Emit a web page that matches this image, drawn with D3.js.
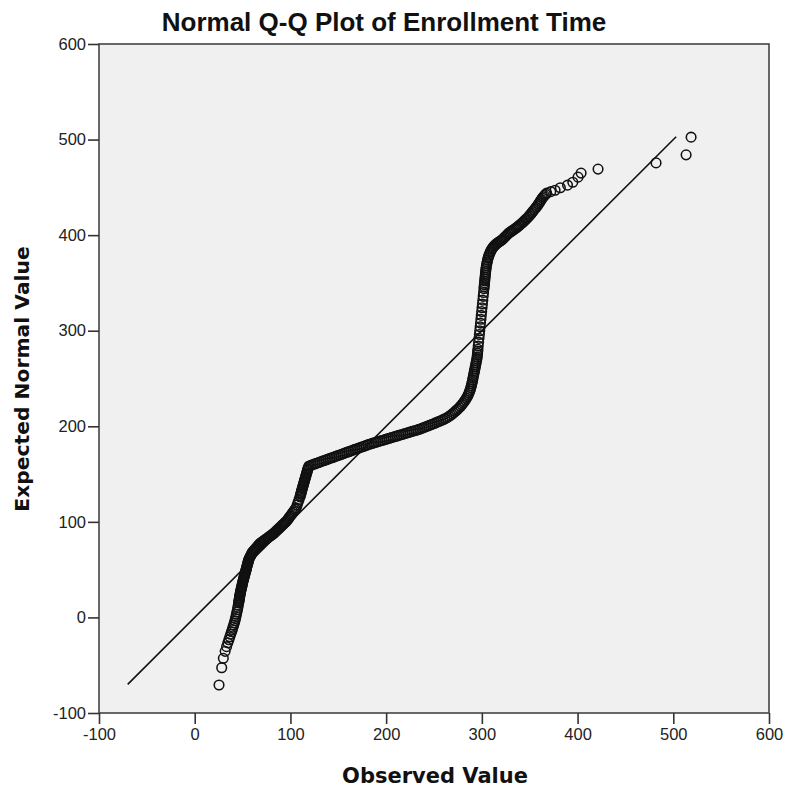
<!DOCTYPE html>
<html>
<head>
<meta charset="utf-8">
<script src="https://cdn.jsdelivr.net/npm/d3@7"></script>
<style>
  body { margin: 0; background: #fff; }
</style>
</head>
<body>
<svg id="chart"></svg>
<script>
"use strict";

const lowerTail = [
  [25.4, -70.7], [28.2, -52.6], [29.9, -42.8], [31.8, -35.5], [33.3, -30.6], [34.6, -26.6],
  [35.7, -23.3], [36.7, -20.3], [37.6, -17.6], [38.5, -15], [39.3, -12.6], [40, -10.3],
  [40.7, -8], [41.4, -5.8], [42, -3.5], [42.6, -1.2], [43.1, 1], [43.6, 3.3], [44.1, 5.6],
  [44.6, 8], [45.1, 10.4], [45.5, 12.8], [45.9, 15.2]
];
const lowerBand = [
  [46.1, 16.4], [46.3, 17.6], [46.5, 18.8], [46.7, 20], [46.9, 21.2], [47.1, 22.4], [47.3, 23.6],
  [47.5, 24.8], [47.8, 26], [48, 27.2], [48.3, 28.4], [48.5, 29.6], [48.8, 30.8], [49.1, 32],
  [49.4, 33.2], [49.6, 34.4], [49.9, 35.6], [50.2, 36.8], [50.5, 38], [50.8, 39.2], [51.1, 40.4],
  [51.4, 41.6], [51.7, 42.8], [52.1, 44], [52.4, 45.2], [52.7, 46.4], [53, 47.6], [53.4, 48.8],
  [53.7, 50], [54, 51.2], [54.3, 52.4], [54.6, 53.6], [55, 54.8], [55.3, 56], [55.6, 57.2],
  [55.9, 58.4], [56.2, 59.6], [56.6, 60.8], [57.2, 62], [57.8, 63.2], [58.4, 64.4], [59, 65.6],
  [59.6, 66.8], [60.1, 68]
];
const midRise = [
  [61, 69.1], [62, 70.2], [63, 71.3], [64, 72.4], [65, 73.6], [66, 74.7], [67, 75.9], [68, 77.1],
  [69, 77.9], [70, 78.6], [71, 79.4], [72, 80.1], [73, 80.8], [74, 81.6], [75, 82.3], [76, 83],
  [77, 83.8], [78, 84.5], [79, 85.3], [80, 86], [81, 86.7], [82, 87.5], [83, 88.4], [84, 89.3],
  [85, 90.3], [86, 91.2], [87, 92.2], [88, 93.1], [89, 94.1], [90, 95], [91, 96], [92, 97],
  [93, 97.9], [94, 98.9], [95, 99.9], [96, 100.8], [97, 102.1], [98, 103.5], [99, 104.9],
  [100, 106.2], [101, 107.6], [102, 109], [103, 110.4], [104, 111.8], [105, 113.2], [106, 114.6],
  [107, 117.5], [108, 120.4], [109, 123.3], [110, 126.2], [110.4, 127.6], [110.8, 129],
  [111.2, 130.4], [111.5, 131.8], [111.9, 133.2], [112.3, 134.6], [112.7, 136], [113.1, 137.4],
  [113.5, 138.8], [113.9, 140.2], [114.3, 141.6], [114.7, 143], [115.1, 144.4], [115.5, 145.8],
  [115.9, 147.2], [116.3, 148.6], [116.7, 150], [117.1, 151.4], [117.5, 152.8], [117.9, 154.2],
  [118.3, 155.6], [118.8, 157], [119.4, 158.4]
];
const shallowBand = [
  [121.4, 159.1], [123.4, 159.9], [125.4, 160.6], [127.4, 161.3], [129.4, 162.1], [131.4, 162.8],
  [133.4, 163.5], [135.4, 164.2], [137.4, 165], [139.4, 165.7], [141.4, 166.4], [143.4, 167.1],
  [145.4, 167.8], [147.4, 168.6], [149.4, 169.3], [151.4, 170], [153.4, 170.7], [155.4, 171.4],
  [157.4, 172.2], [159.4, 172.9], [161.4, 173.6], [163.4, 174.3], [165.4, 175], [167.4, 175.8],
  [169.4, 176.5], [171.4, 177.2], [173.4, 177.9], [175.4, 178.6], [177.4, 179.4], [179.4, 180.1],
  [181.4, 180.8], [183.4, 181.5], [185.4, 182.1], [187.4, 182.7], [189.4, 183.3], [191.4, 183.9],
  [193.4, 184.5], [195.4, 185.1], [197.4, 185.7], [199.4, 186.3], [201.4, 186.9], [203.4, 187.5],
  [205.4, 188.1], [207.4, 188.7], [209.4, 189.3], [211.4, 189.9], [213.4, 190.5], [215.4, 191.1],
  [217.4, 191.7], [219.4, 192.3], [221.4, 192.9], [223.4, 193.5], [225.4, 194.1], [227.4, 194.7],
  [229.4, 195.3], [231.4, 195.9], [233.4, 196.5], [235.4, 197.1], [237.4, 197.9], [239.4, 198.7],
  [241.4, 199.5], [243.4, 200.3], [245.4, 201.1], [247.4, 201.9], [249.4, 202.7], [251.4, 203.5],
  [253.4, 204.3], [255.4, 205.1], [257.4, 205.9], [259.4, 206.9], [261.4, 207.9], [263.4, 208.9],
  [265.4, 210.1], [267.2, 211.4], [268.9, 212.7], [270.5, 214]
];
const upperRise = [
  [272, 215.4], [273.5, 216.8], [275, 218.1], [276.4, 219.5], [277.8, 221], [279.1, 222.6],
  [280.4, 224.2], [281.6, 225.9], [282.8, 227.6], [283.9, 229.3], [284.9, 231.1], [285.8, 232.9],
  [286.6, 234.8], [287.3, 236.7], [287.9, 238.6], [288.5, 240.5], [289, 242.5], [289.5, 244.5],
  [290, 246.5], [290.4, 248.5], [290.8, 250.5], [291.2, 252.5], [291.6, 254.5], [292, 256.5],
  [292.4, 258.5], [292.8, 260.5], [293.2, 262.5], [293.6, 264.5], [294, 266.5], [294.4, 268.5],
  [294.8, 270.5], [295.1, 272.5], [295.3, 274.5], [295.5, 276.5], [295.7, 278.5], [295.9, 280.5],
  // looser stack of circles
  [296.2, 284], [296.6, 288], [297, 292], [297.4, 296], [297.8, 300], [298.2, 304], [298.6, 308],
  [299, 312], [299.4, 316], [299.8, 320], [300.2, 324], [300.6, 328], [301, 332], [301.4, 336],
  [301.8, 340], [302.2, 344]
];
const upperBand = [
  [302.4, 346], [302.6, 348], [302.8, 350], [303, 352], [303.2, 354], [303.4, 356], [303.6, 358],
  [303.8, 360], [304, 362], [304.2, 364], [304.5, 366], [304.8, 368], [305.2, 370], [305.6, 372],
  [306, 374], [306.5, 376], [307, 377.6], [307.6, 379.2], [308.2, 380.8], [308.9, 382.4],
  [309.6, 384], [310.4, 385.4], [311.3, 386.6], [312.2, 387.8], [313.2, 389], [314.2, 390],
  [315.3, 391], [316.4, 391.9], [317.6, 392.7], [318.8, 393.5], [320, 394.3], [321.1, 395.1],
  [322.4, 396.4], [323.7, 397.7], [325, 399], [326.3, 400.3], [327.6, 401.6], [328.9, 402.7],
  [330.2, 403.6], [331.5, 404.5], [332.8, 405.4], [334.1, 406.3], [335.4, 407.2], [336.7, 408.2],
  [338, 409.3], [339.3, 410.4], [340.6, 411.5], [341.9, 412.6], [343.2, 413.8], [344.5, 415],
  [345.8, 416.3], [347.1, 417.6], [348.4, 418.9], [349.6, 420.3], [350.8, 421.7], [352, 423.2],
  [353.2, 424.7], [354.4, 426.2], [355.6, 427.7], [356.8, 429.2], [358, 430.7], [359.1, 432.3],
  [360.1, 433.9], [361.1, 435.5], [362.1, 437.1], [363.1, 438.7], [364.2, 440.1], [365.3, 441.4],
  [366.5, 442.7], [367.7, 443.9]
];
const upperTail = [
  [372, 445.5], [376.5, 447], [382, 449.6], [389.5, 452.3], [395, 455.3], [400.5, 460.7],
  [403.7, 464.9], [421.4, 469.1], [482, 475.6], [513.4, 484], [518.6, 502.5]
];

const xTicks = [-100, 0, 100, 200, 300, 400, 500, 600];
const yTicks = [-100, 0, 100, 200, 300, 400, 500, 600];
const refLine = [-70, 503];

const points = [lowerTail, lowerBand, midRise, shallowBand, upperRise, upperBand, upperTail]
  .flat()
  .map(([obs, exp]) => ({ obs, exp }));

const width = 786;
const height = 787;
const margin = { top: 44, right: 17, bottom: 74, left: 99 };

const svg = d3.select("#chart")
  .attr("width", width)
  .attr("height", height);

const x = d3.scaleLinear()
  .domain([-100, 600])
  .range([margin.left, width - margin.right]);

const y = d3.scaleLinear()
  .domain([-100, 600])
  .range([height - margin.bottom, margin.top]);

// plot background + frame
svg.append("rect")
  .attr("x", x(-100))
  .attr("y", y(600))
  .attr("width", x(600) - x(-100))
  .attr("height", y(-100) - y(600))
  .attr("fill", "#f0f0f0")
  .attr("stroke", "#444")
  .attr("stroke-width", 1.6);

// axes
const tickFont = "'Liberation Sans', Arial, sans-serif";
const plain = (d) => String(d);

const yAxis = svg.append("g")
  .attr("transform", `translate(${x(-100)},0)`)
  .call(d3.axisLeft(y).tickValues(yTicks).tickFormat(plain).tickSize(11).tickPadding(2));

const xAxis = svg.append("g")
  .attr("transform", `translate(0,${y(-100)})`)
  .call(d3.axisBottom(x).tickValues(xTicks).tickFormat(plain).tickSize(11).tickPadding(4));

[xAxis, yAxis].forEach((g) => {
  g.select(".domain").remove();
  g.selectAll(".tick line").attr("stroke", "#333").attr("stroke-width", 1.6);
  g.selectAll(".tick text")
    .attr("fill", "#222")
    .style("font-family", tickFont)
    .style("font-size", "16.5px");
});

// reference line
svg.append("line")
  .attr("x1", x(refLine[0]))
  .attr("y1", y(refLine[0]))
  .attr("x2", x(refLine[1]))
  .attr("y2", y(refLine[1]))
  .attr("stroke", "#111")
  .attr("stroke-width", 1.6);

// points
svg.append("g")
  .selectAll("circle")
  .data(points)
  .join("circle")
  .attr("cx", (d) => x(d.obs))
  .attr("cy", (d) => y(d.exp))
  .attr("r", 4.8)
  .attr("fill", "none")
  .attr("stroke", "#111")
  .attr("stroke-width", 1.55);

// titles
svg.append("text")
  .attr("x", 384)
  .attr("y", 31)
  .attr("text-anchor", "middle")
  .style("font-family", tickFont)
  .style("font-weight", "bold")
  .style("font-size", "26px")
  .attr("fill", "#111")
  .text("Normal Q-Q Plot of Enrollment Time");

svg.append("text")
  .attr("x", 435)
  .attr("y", 783)
  .attr("text-anchor", "middle")
  .style("font-family", "'DejaVu Sans', Verdana, sans-serif")
  .style("font-weight", "bold")
  .style("font-size", "21px")
  .attr("fill", "#111")
  .text("Observed Value");

svg.append("text")
  .attr("transform", "translate(29,379) rotate(-90)")
  .attr("text-anchor", "middle")
  .style("font-family", "'DejaVu Sans', Verdana, sans-serif")
  .style("font-weight", "bold")
  .style("font-size", "20.3px")
  .attr("fill", "#111")
  .text("Expected Normal Value");
</script>
</body>
</html>
